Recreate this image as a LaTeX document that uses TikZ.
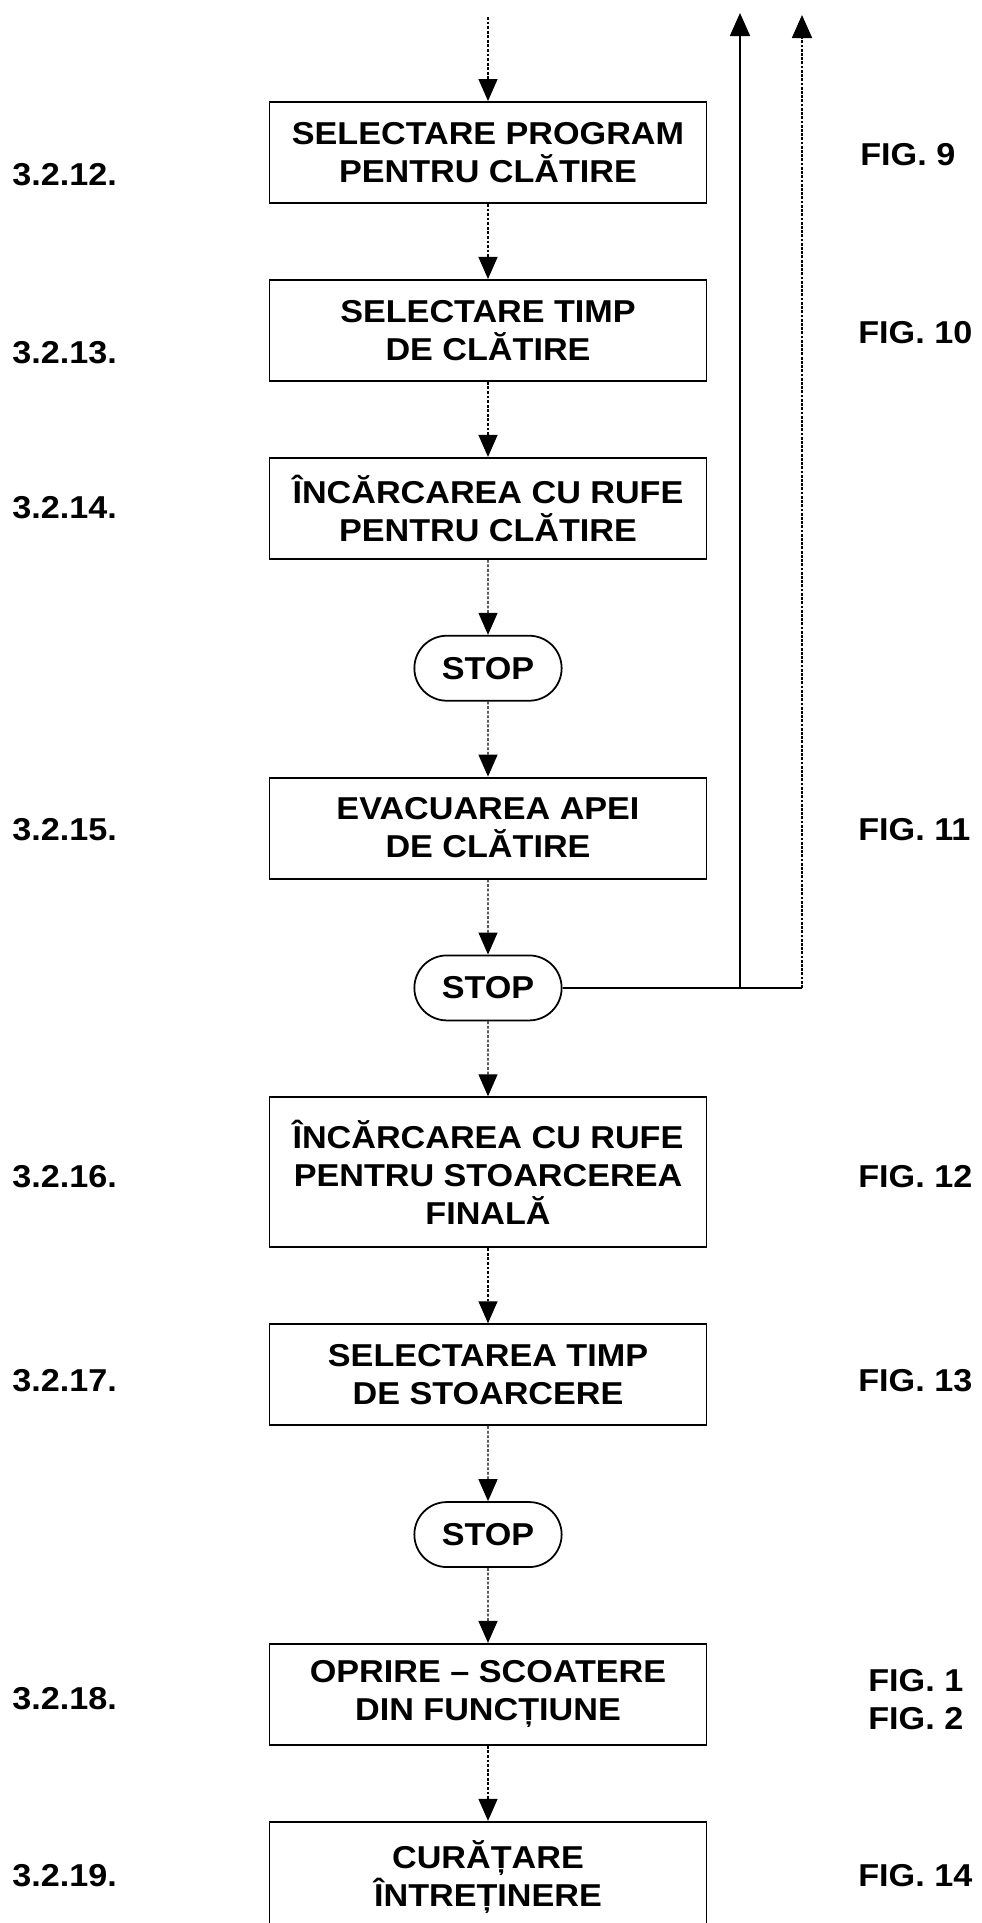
\documentclass[tikz,border=0pt]{standalone}
\usepackage{fontspec}
\setmainfont{Liberation Sans}[FakeStretch=1.08]
\usetikzlibrary{positioning,shapes.misc,arrows.meta}

\begin{document}
\begin{tikzpicture}[x=0.2mm, y=-0.2mm, node distance=15mm,
    font=\bfseries\fontsize{18}{21.6}\selectfont,
    stage/.style = {draw, line width=1.1pt, minimum width=87.4mm, minimum height=20.2mm, align=center, inner sep=2pt},
    halt/.style = {draw, line width=1pt, rounded rectangle, minimum width=31.8mm, minimum height=13mm},
    flow/.style = {line width=0.7pt, dash pattern=on 1.6pt off 1pt, -{Triangle[length=4.4mm,width=3.8mm]}},
    back/.style = {line width=1pt, -{Triangle[length=4.6mm,width=4mm]}},
    tag/.style = {anchor=west, inner sep=0pt}]
  \useasboundingbox (0,0) rectangle (981,1923);

  % main chain
  \node[stage](1) at (488,152.5) {SELECTARE PROGRAM\\PENTRU CLĂTIRE};
  \node[stage](2) [below=of 1] {SELECTARE TIMP\\DE CLĂTIRE};
  \node[stage](3) [below=of 2] {ÎNCĂRCAREA CU RUFE\\PENTRU CLĂTIRE};
  \node[halt](4) [below=of 3] {STOP};
  \node[stage](5) [below=of 4] {EVACUAREA APEI\\DE CLĂTIRE};
  \node[halt](6) [below=of 5] {STOP};
  \node[stage, minimum height=30mm](7) [below=of 6] {ÎNCĂRCAREA CU RUFE\\PENTRU STOARCEREA\\FINALĂ};
  \node[stage](8) [below=of 7] {SELECTAREA TIMP\\DE STOARCERE};
  \node[halt](9) [below=of 8] {STOP};
  \node[stage](10) [below=of 9] {OPRIRE -- SCOATERE\\DIN FUNCȚIUNE};
  \node[stage, minimum height=22mm](11) [below=of 10] {CURĂȚARE\\ÎNTREȚINERE};

  \coordinate (0) at (488,17);
  \coordinate (up1) at (740,13);
  \coordinate (up2) at (802,15);

  \draw[flow] (0) -- (1);
  \foreach \a/\b in {1/2, 2/3, 3/4, 4/5, 5/6, 6/7, 7/8, 8/9, 9/10, 10/11}
    \draw[flow] (\a) -- (\b);

  % return lines
  \draw[line width=1pt] (6.east) -- (6.east -| up2);
  \draw[back] (6.east -| up1) -- (up1);
  \draw[back, dash pattern=on 1.6pt off 0.8pt] (6.east -| up2) -- (up2);

  % step numbers
  \node[tag](l1) at (12,175) {3.2.12.};
  \node[tag](l2) at (12,353) {3.2.13.};
  \node[tag](l3) at (12,508) {3.2.14.};
  \node[tag](l4) at (12,830) {3.2.15.};
  \node[tag](l5) at (12,1177) {3.2.16.};
  \node[tag](l6) at (12,1381) {3.2.17.};
  \node[tag](l7) at (12,1699) {3.2.18.};
  \node[tag](l8) at (12,1876) {3.2.19.};

  % figure references
  \node[tag](f1) at (860,155) {FIG. 9};
  \node[tag](f2) at (858,333) {FIG. 10};
  \node[tag](f3) at (858,830) {FIG. 11};
  \node[tag](f4) at (858,1177) {FIG. 12};
  \node[tag](f5) at (858,1381) {FIG. 13};
  \node[tag, align=left](f6) at (868,1700) {FIG. 1\\FIG. 2};
  \node[tag](f7) at (858,1876) {FIG. 14};
\end{tikzpicture}
\end{document}
